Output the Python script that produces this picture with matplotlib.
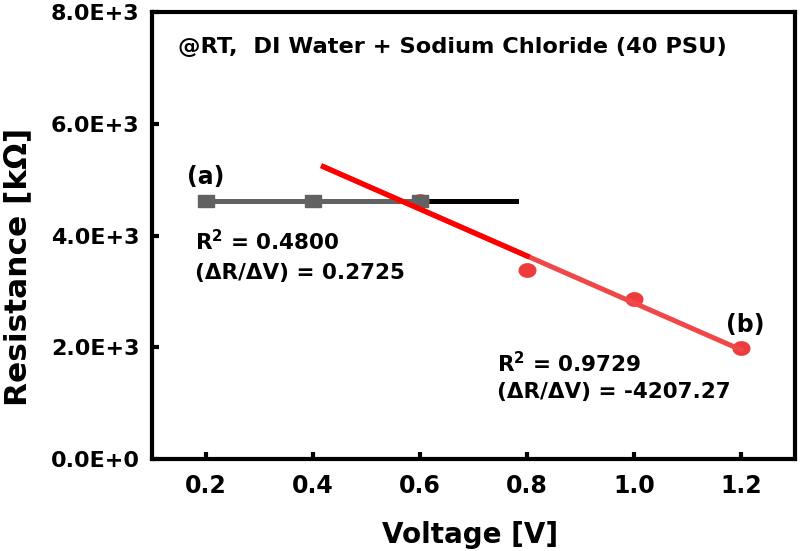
import numpy as np
import matplotlib
matplotlib.use("Agg")
import matplotlib.pyplot as plt
from matplotlib.ticker import FuncFormatter

plt.rcParams['font.family'] = ['DejaVu Sans']
plt.rcParams['font.weight'] = 'bold'
plt.rcParams['mathtext.fontset'] = 'custom'
plt.rcParams['mathtext.rm'] = 'DejaVu Sans:bold'
plt.rcParams['mathtext.bf'] = 'DejaVu Sans:bold'

# data
volt_a = [0.2, 0.4, 0.6]
res_a = [4620, 4620, 4620]
volt_b = [0.6, 0.8, 1.0, 1.2]
res_b = [4620, 3380, 2864, 1987]
fit_a_range = [0.2, 0.78]
fit_b_range = [0.42, 1.2]
fit_b_split = 0.8

fig = plt.figure(figsize=(8, 5.51), dpi=100)
ax = fig.add_axes([0.19, 0.167, 0.80375, 0.811])

# stretched markers (reference is horizontally stretched)
rect = [(-0.5, -0.38), (0.5, -0.38), (0.5, 0.38), (-0.5, 0.38), (-0.5, -0.38)]
t = np.linspace(0, 2 * np.pi, 40)
ell = list(zip(0.5 * np.cos(t), 0.41 * np.sin(t)))

# fit (a)
pa = np.polyfit(volt_a, res_a, 1)
xa = np.array(fit_a_range)
ax.plot(xa, np.polyval(pa, xa), color='black', lw=3.6, zorder=2)

# points (b)
ax.plot(volt_b, res_b, linestyle='none', marker=ell, ms=13, color='#ee3c3c',
        markeredgewidth=0, zorder=3)
ax.plot(volt_a, res_a, color='#626262', lw=3.6, marker=rect, ms=11.5, zorder=3.5)
pb = np.polyfit(volt_b, res_b, 1)
xb = np.array(fit_b_range)
ax.plot(xb, np.polyval(pb, xb), color='#f04848', lw=3.6, zorder=4)
xb2 = np.array([fit_b_range[0], fit_b_split])
ax.plot(xb2, np.polyval(pb, xb2), color='#ff0000', lw=3.8, zorder=5)

ax.set_xlim(0.1, 1.3)
ax.set_ylim(0, 8000)
ax.set_xticks([0.2, 0.4, 0.6, 0.8, 1.0, 1.2])
ax.set_yticks([0, 2000, 4000, 6000, 8000])

def yfmt(v, pos):
    if v == 0:
        return "0.0E+0"
    e = int(np.floor(np.log10(abs(v))))
    return f"{v/10**e:.1f}E+{e}"

ax.yaxis.set_major_formatter(FuncFormatter(yfmt))
ax.xaxis.set_major_formatter(FuncFormatter(lambda v, p: f"{v:.1f}"))
ax.tick_params(direction='in', length=5, width=3)
ax.tick_params(axis='x', labelsize=17, pad=11)
ax.tick_params(axis='y', labelsize=16, pad=9)
for s in ax.spines.values():
    s.set_linewidth(3)

fig.text(470 / 800, 1 - 543 / 551, 'Voltage [V]', fontsize=20, fontweight='bold',
         ha='center', va='baseline')
fig.text(26 / 800, 1 - 267 / 551, 'Resistance [kΩ]', fontsize=22.5, fontweight='bold',
         ha='center', va='baseline', rotation=90, rotation_mode='anchor')

ax.text(0.040, 0.908, '@RT,  DI Water + Sodium Chloride (40 PSU)', transform=ax.transAxes,
        fontsize=16.2, fontweight='bold', va='baseline', ha='left')
ax.text(0.2, 4922, '(a)', fontsize=17, fontweight='bold', ha='center', va='baseline')
ax.text(0.181, 3740, r'R$^{2}$ = 0.4800', fontsize=15.5, fontweight='bold', ha='left', va='baseline')
ax.text(0.181, 3221, '(ΔR/ΔV) = 0.2725', fontsize=15.5, fontweight='bold', ha='left', va='baseline')
ax.text(1.207, 2273, '(b)', fontsize=17, fontweight='bold', ha='center', va='baseline')
ax.text(0.744, 1557, r'R$^{2}$ = 0.9729', fontsize=15.5, fontweight='bold', ha='left', va='baseline')
ax.text(0.744, 1100, '(ΔR/ΔV) = -4207.27', fontsize=15.5, fontweight='bold', ha='left', va='baseline')

fig.savefig('out.png', dpi=100)
